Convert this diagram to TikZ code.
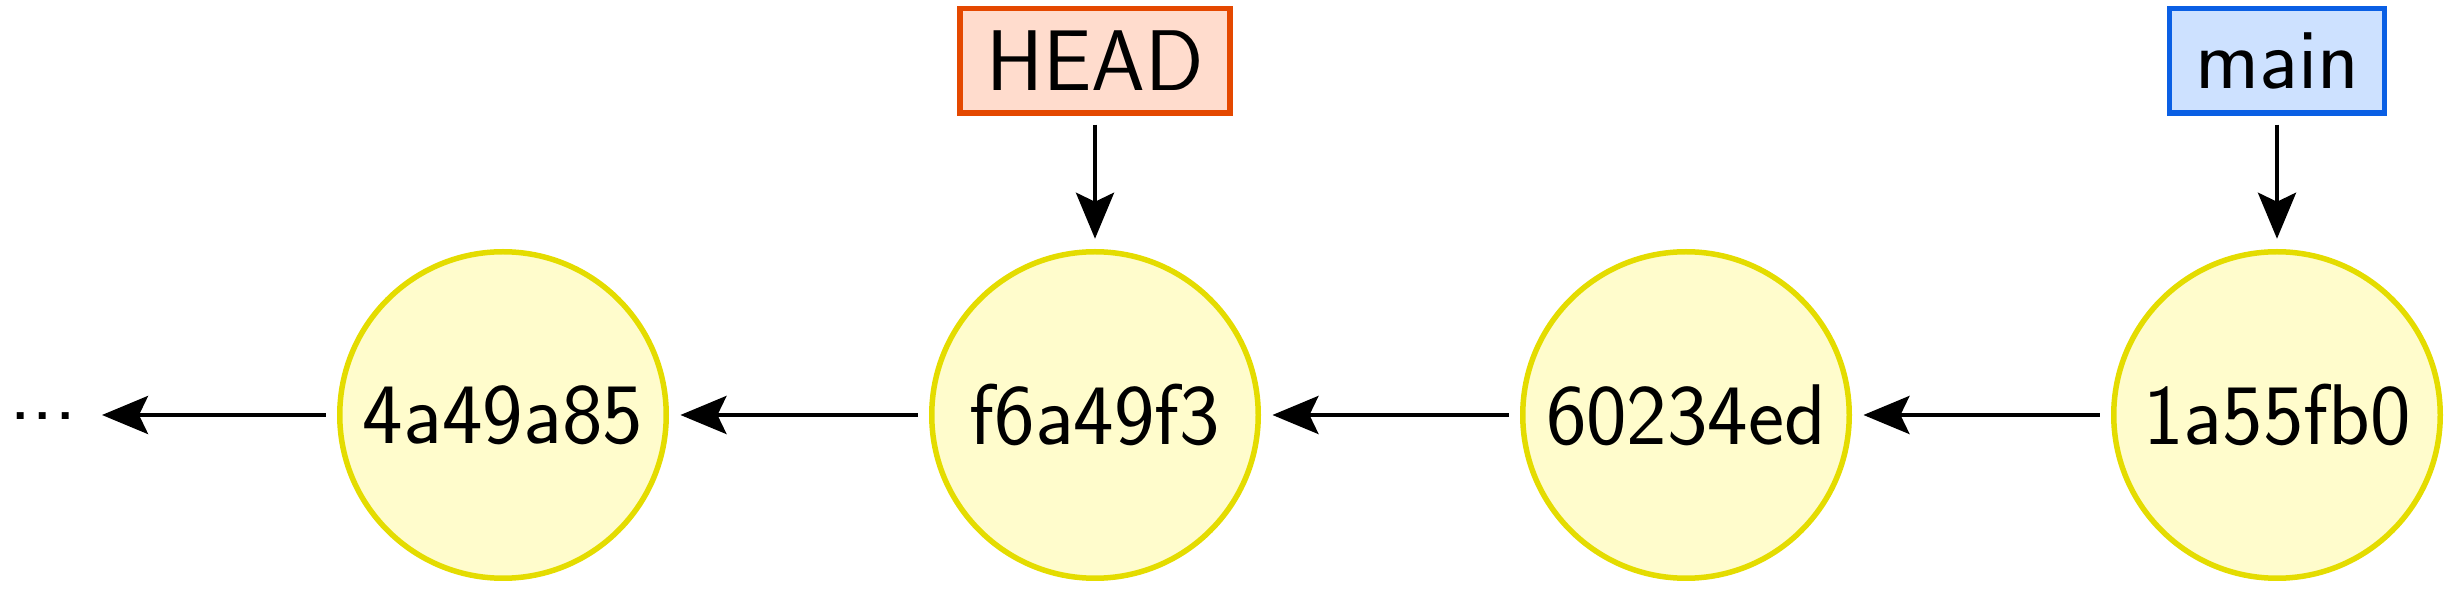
\documentclass[tikz,border=0pt]{standalone}
\usetikzlibrary{arrows.meta}
\definecolor{commitfill}{RGB}{255,252,204}
\definecolor{commitdraw}{RGB}{228,220,0}
\definecolor{headfill}{RGB}{255,220,205}
\definecolor{headdraw}{RGB}{228,72,0}
\definecolor{mainfill}{RGB}{205,225,255}
\definecolor{maindraw}{RGB}{10,95,228}
\tikzset{
  txt/.style={font=\sffamily\fontsize{24.5pt}{29pt}\selectfont},
  commit/.style={txt, circle, draw=commitdraw, fill=commitfill, line width=0.55mm,
    minimum size=32.65mm, inner sep=0pt, outer sep=0pt},
  refbox/.style={txt, rectangle, line width=0.55mm, minimum height=10.45mm,
    inner sep=0pt, outer sep=0pt},
  arr/.style={line width=0.42mm, -{Stealth[length=4.6mm, width=3.8mm, inset=0.9mm]}},
}
\begin{document}
\begin{tikzpicture}[x=0.1mm, y=-0.1mm]
  \useasboundingbox (0,0) rectangle (2450,589);
  \node[commit] (c1) at (503,415) {4a49a85};
  \node[commit] (c2) at (1095,415) {f6a49f3};
  \node[commit] (c3) at (1686,415) {60234ed};
  \node[commit] (c4) at (2277,415) {1a55fb0};
  \node[refbox, draw=headdraw, fill=headfill, minimum width=27mm] (head) at (1095,61) {HEAD};
  \node[refbox, draw=maindraw, fill=mainfill, minimum width=21.5mm] (main) at (2277,61) {main};
  \node[txt, anchor=base, inner sep=0pt] (dots) at (43,420) {.\kern0pt.\kern0pt.};
  \coordinate (dotsend) at (102,415);
  \draw[arr, shorten <=1.42mm, shorten >=1.42mm] (c4) -- (c3);
  \draw[arr, shorten <=1.42mm, shorten >=1.42mm] (c3) -- (c2);
  \draw[arr, shorten <=1.42mm, shorten >=1.42mm] (c2) -- (c1);
  \draw[arr, shorten <=1.42mm] (c1) -- (dotsend);
  \draw[arr, shorten <=1.15mm, shorten >=1.3mm] (head) -- (c2);
  \draw[arr, shorten <=1.15mm, shorten >=1.3mm] (main) -- (c4);
\end{tikzpicture}
\end{document}
